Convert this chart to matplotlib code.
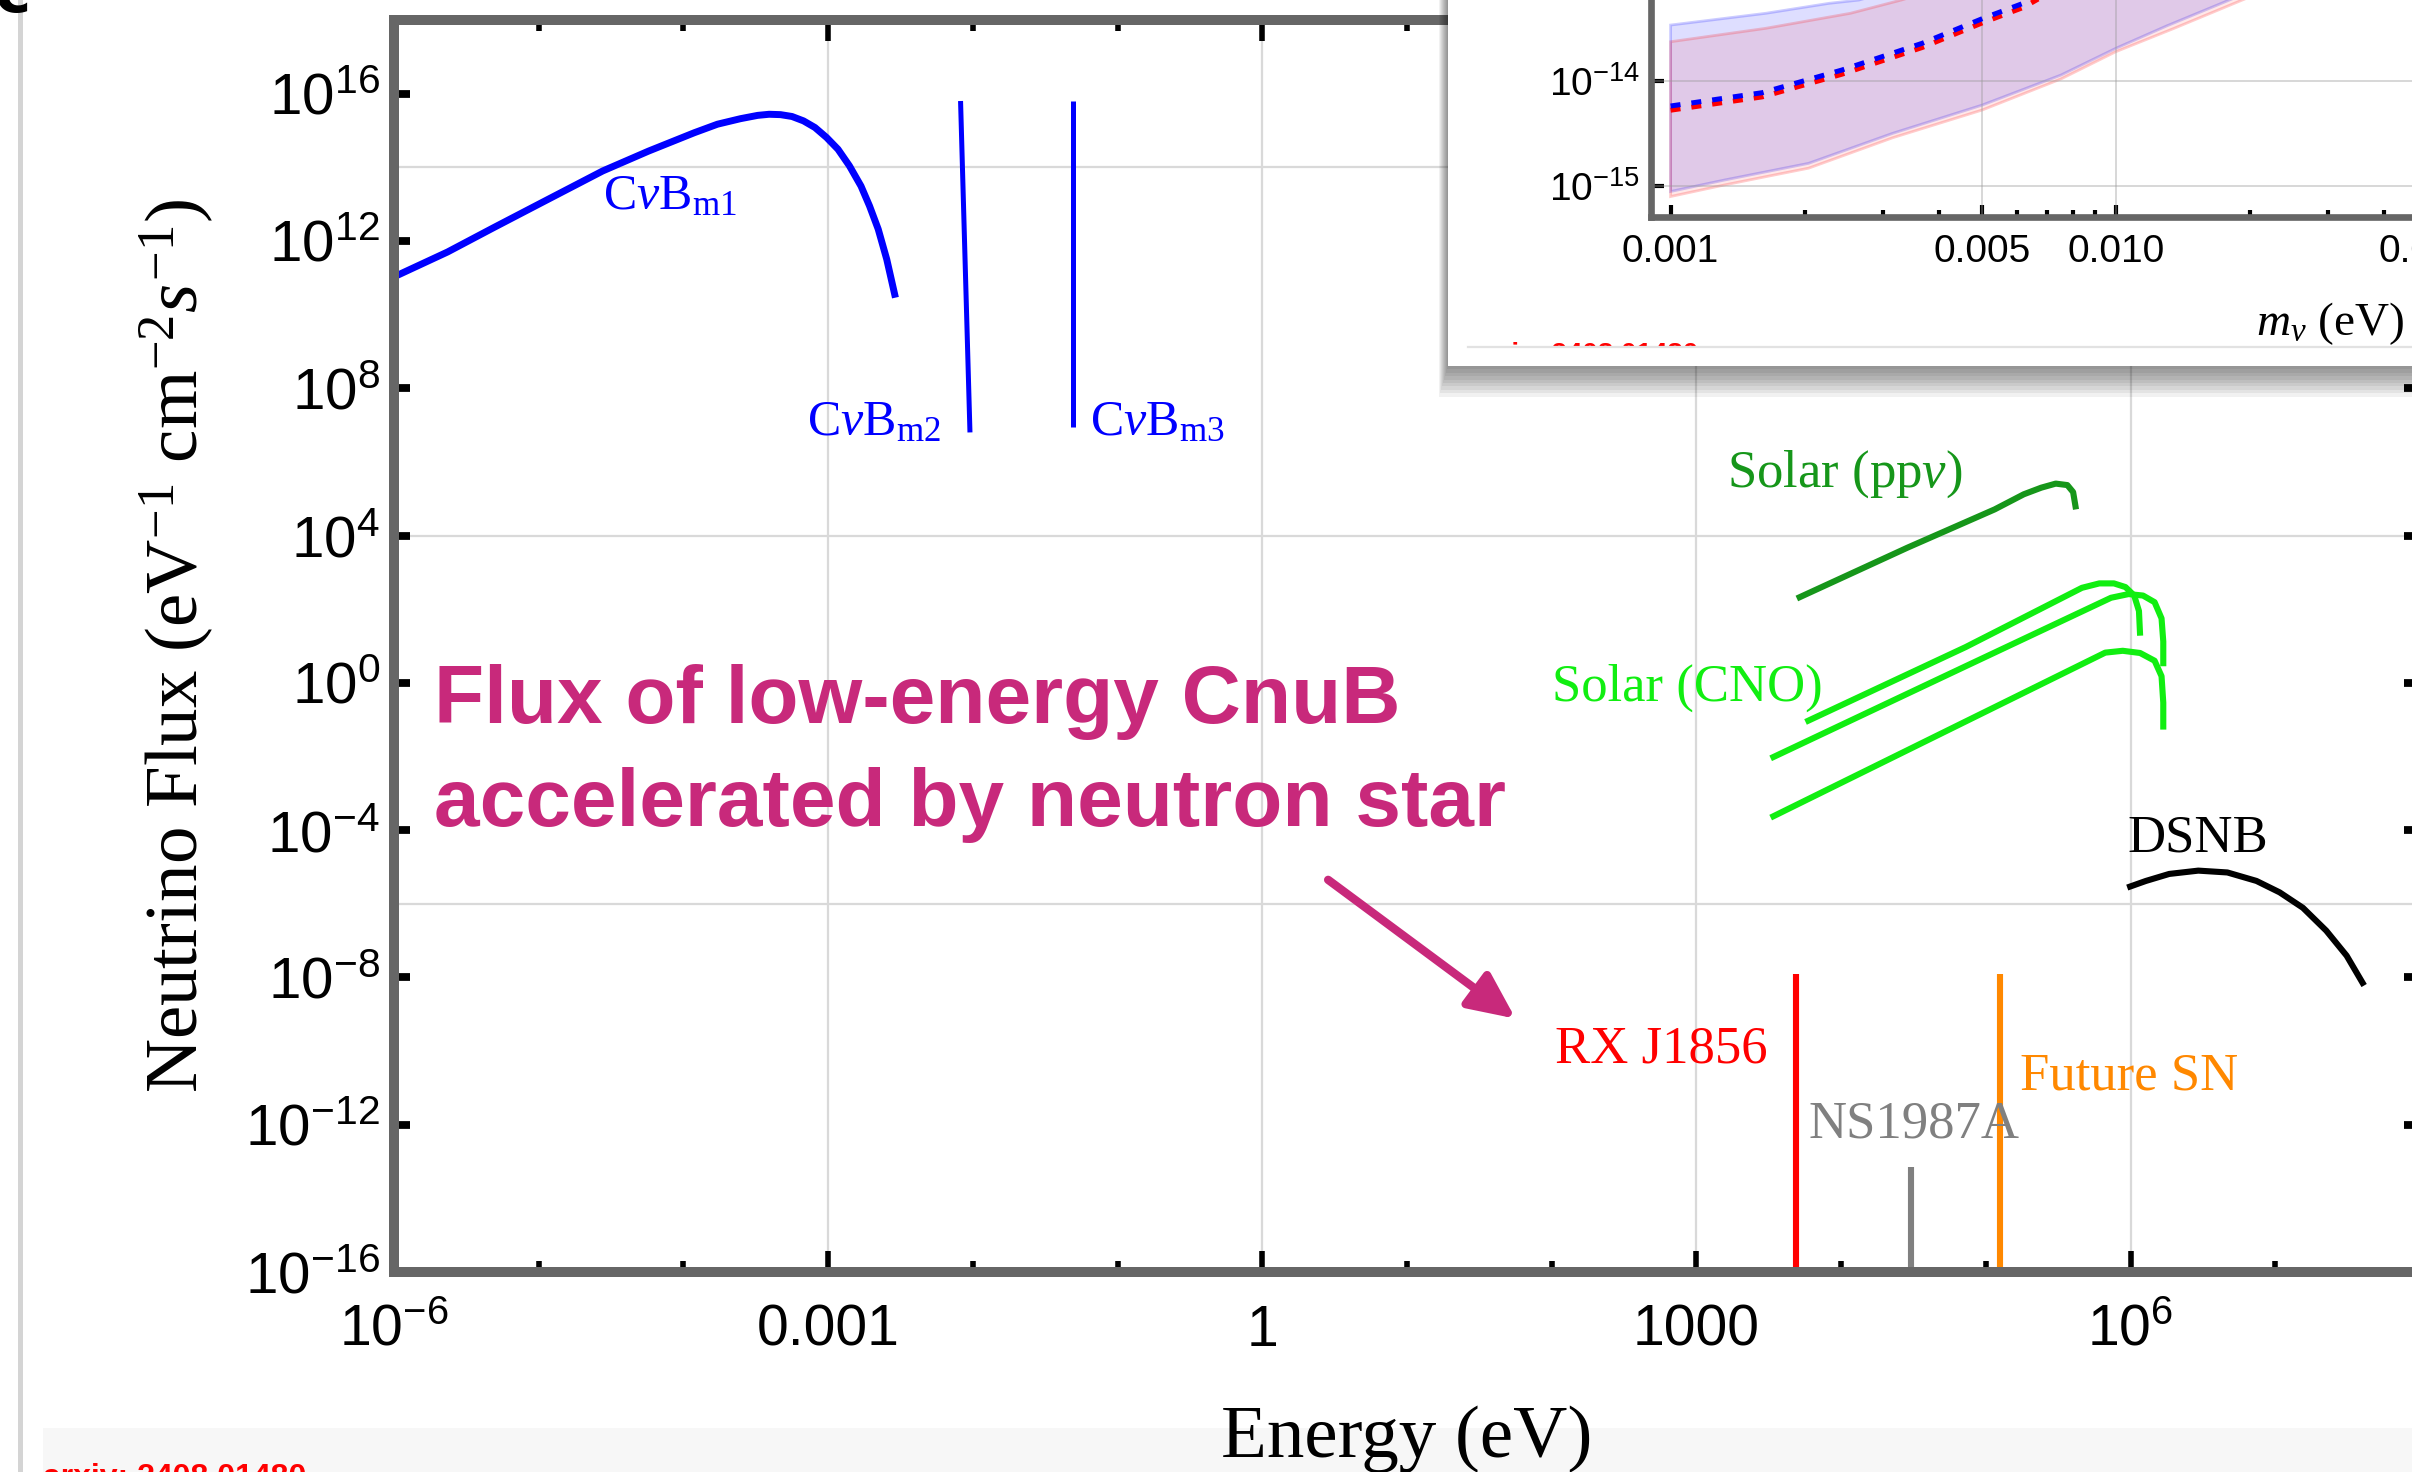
import numpy as np
import matplotlib
matplotlib.use("Agg")
import matplotlib.pyplot as plt
from matplotlib.patches import Rectangle
from matplotlib.lines import Line2D
from matplotlib.ticker import FixedLocator, FixedFormatter, NullLocator, NullFormatter

plt.rcParams['font.family'] = ['Liberation Sans', 'DejaVu Sans']
plt.rcParams['mathtext.fontset'] = 'custom'
plt.rcParams['mathtext.rm'] = 'Liberation Serif'
plt.rcParams['mathtext.it'] = 'Liberation Serif:italic'
plt.rcParams['mathtext.bf'] = 'Liberation Serif:bold'
plt.rcParams['mathtext.default'] = 'regular'

# ---- main panel: log10(E / eV) and log10(flux) ----
cvb_m1_logE = [-5.986, -5.630, -5.312, -4.955, -4.558, -4.241, -3.924, -3.765, -3.606, -3.487,
               -3.408, -3.329, -3.250, -3.170, -3.091, -3.011, -2.932, -2.853, -2.773, -2.714,
               -2.654, -2.595, -2.535]
cvb_m1_logF = [11.05, 11.70, 12.36, 13.09, 13.90, 14.44, 14.94, 15.17, 15.32, 15.41,
               15.44, 15.43, 15.38, 15.26, 15.08, 14.81, 14.49, 14.04, 13.49, 12.95,
               12.32, 11.50, 10.46]
cvb_m2_logE = [-2.085, -2.02]
cvb_m2_logF = [15.8, 6.8]
cvb_m3_logE = [-1.31, -1.31]
cvb_m3_logF = [15.8, 6.95]

pp_logE = [3.694, 4.458, 5.061, 5.262, 5.383, 5.483, 5.563, 5.603, 5.623]
pp_logF = [2.29, 3.67, 4.71, 5.12, 5.30, 5.41, 5.37, 5.18, 4.71]

cno_a_logE = [3.754, 4.860, 5.664, 5.784, 5.885, 5.965, 6.025, 6.058, 6.066]
cno_a_logF = [-1.063, 0.97, 2.58, 2.70, 2.70, 2.60, 2.37, 1.95, 1.28]
cno_b_logE = [3.513, 4.860, 5.865, 5.986, 6.086, 6.166, 6.214, 6.226, 6.226]
cno_b_logF = [-2.05, 0.45, 2.31, 2.41, 2.37, 2.19, 1.75, 1.12, 0.45]
cno_c_logE = [3.513, 5.825, 5.946, 6.066, 6.166, 6.214, 6.226, 6.226]
cno_c_logF = [-3.66, 0.82, 0.87, 0.81, 0.60, 0.18, -0.54, -1.27]

dsnb_logE = [5.977, 6.106, 6.267, 6.468, 6.669, 6.870, 7.030, 7.191, 7.352, 7.493, 7.614]
dsnb_logF = [-5.56, -5.38, -5.19, -5.10, -5.15, -5.38, -5.69, -6.11, -6.73, -7.41, -8.22]

# neutron-star / SN lines: energy and top of line
spike_names = ['RX J1856', 'NS1987A', 'Future SN']
spike_logE = [3.69, 4.48, 5.10]
spike_logTop = [-7.9, -13.14, -7.9]
spike_colors = ['#ff0000', '#808080', '#ff8800']

x_major = [1e-6, 1e-3, 1.0, 1e3, 1e6]
x_labels = [r'$\mathdefault{10^{-6}}$', '0.001', '1', '1000', r'$\mathdefault{10^{6}}$']
y_exps = [16, 12, 8, 4, 0, -4, -8, -12, -16]
grid_x = [1e-3, 1.0, 1e3, 1e6]
grid_y = [1e14, 1e4, 1e-6]

# ---- inset: log10(m_nu / eV) vs log10(value) ----
dash_logm = [-3.0, -2.794, -2.615, -2.435, -2.298, -2.208, -2.1]
dash_blue = [-14.238, -14.111, -13.895, -13.641, -13.403, -13.26, -13.0]
dash_red = [-14.278, -14.151, -13.935, -13.681, -13.443, -13.30, -13.04]

blue_low_m = [-3.0, -2.879, -2.785, -2.69, -2.501, -2.30, -2.123, -2.0, -1.886, -1.745, -1.5]
blue_low_v = [-15.052, -14.943, -14.864, -14.784, -14.498, -14.229, -13.943, -13.689, -13.476, -13.229, -12.8]
blue_up_m = [-3.0, -2.786, -2.644, -2.577, -2.3, -1.5]
blue_up_v = [-13.467, -13.355, -13.26, -13.229, -12.9, -12.0]
red_low_m = [-3.0, -2.879, -2.785, -2.69, -2.501, -2.30, -2.123, -2.0, -1.870, -1.716, -1.5]
red_low_v = [-15.10, -14.99, -14.91, -14.83, -14.54, -14.276, -13.98, -13.721, -13.50, -13.229, -12.85]
red_up_m = [-3.0, -2.786, -2.596, -2.482, -2.3, -1.5]
red_up_v = [-13.626, -13.498, -13.355, -13.229, -13.0, -12.1]

MAG = '#c8297b'
SERIF = 'Liberation Serif'

if __name__ == "__main__":
    W, H = 2412, 1472
    fig = plt.figure(figsize=(W / 200, H / 200), dpi=200)

    # page decorations (screenshot frame)
    fig.add_artist(Rectangle((43 / W, 0), 1, 44 / H, transform=fig.transFigure,
                             facecolor='#f7f7f7', edgecolor='none', zorder=-1))
    fig.add_artist(Rectangle((18 / W, 0), 5 / W, 1, transform=fig.transFigure,
                             facecolor='#d4d4d4', edgecolor='none', zorder=-1))
    fig.text(-6 / W, 1 - 12 / H, 'c', size=22, weight='bold', family='DejaVu Sans', va='baseline')
    fig.text(43 / W, 1 - 1486 / H, 'arxiv: 2408.01480', color='red', size=11.5,
             weight='bold', va='baseline')

    ax = fig.add_axes([394 / W, 1 - 1272 / H, 2026 / W, 1252 / H])
    ax.set_xscale('log')
    ax.set_yscale('log')
    ax.set_xlim(1e-6, 1e8)
    ax.set_ylim(1e-16, 1e18)

    for s in ax.spines.values():
        s.set_linewidth(3.6)
        s.set_color('#666666')

    ax.xaxis.set_major_locator(FixedLocator(x_major))
    ax.xaxis.set_major_formatter(FixedFormatter(x_labels))
    ax.xaxis.set_minor_locator(FixedLocator(10.0 ** np.arange(-6, 9)))
    ax.xaxis.set_minor_formatter(NullFormatter())
    ax.yaxis.set_major_locator(FixedLocator([10.0 ** e for e in y_exps]))
    ax.yaxis.set_major_formatter(FixedFormatter([r'$\mathdefault{10^{%d}}$' % e for e in y_exps]))
    ax.yaxis.set_minor_locator(NullLocator())
    ax.tick_params(axis='x', which='major', direction='in', length=7.5, width=2, color='k',
                   top=True, labelsize=20.5, pad=11.5)
    ax.tick_params(axis='x', which='minor', direction='in', length=4, width=2, color='k', top=True)
    ax.tick_params(axis='y', which='major', direction='in', length=5.8, width=2.8, color='k',
                   right=True, labelsize=21, pad=5)

    for g in grid_x:
        ax.axvline(g, color='#d9d9d9', lw=0.8, zorder=0)
    for g in grid_y:
        ax.axhline(g, color='#d9d9d9', lw=0.8, zorder=0)

    lg = lambda v: 10.0 ** np.asarray(v)

    ax.plot(lg(cvb_m1_logE), lg(cvb_m1_logF), color='#0000ff', lw=2.5, solid_capstyle='butt')
    ax.plot(lg(cvb_m2_logE), lg(cvb_m2_logF), color='#0000ff', lw=1.8, solid_capstyle='butt')
    ax.plot(lg(cvb_m3_logE), lg(cvb_m3_logF), color='#0000ff', lw=1.8, solid_capstyle='butt')
    ax.plot(lg(pp_logE), lg(pp_logF), color='#16961a', lw=2.2, solid_capstyle='butt')
    for e, f in [(cno_a_logE, cno_a_logF), (cno_b_logE, cno_b_logF), (cno_c_logE, cno_c_logF)]:
        ax.plot(lg(e), lg(f), color='#11ee11', lw=2.2, solid_capstyle='butt')
    ax.plot(lg(dsnb_logE), lg(dsnb_logF), color='black', lw=2.2, solid_capstyle='butt')
    for e, top, c in zip(spike_logE, spike_logTop, spike_colors):
        ax.vlines(10.0 ** e, 1e-16, 10.0 ** top, color=c, lw=2.2)

    cvb = r'C$\mathit{\nu}$B$_{\mathrm{%s}}$'
    ax.text(10 ** -4.556, 10 ** 12.86, cvb % 'm1', color='#0000ff', family=SERIF, size=18, va='baseline')
    ax.text(10 ** -2.22, 10 ** 6.74, cvb % 'm2', color='#0000ff', family=SERIF, size=18,
            ha='right', va='baseline')
    ax.text(10 ** -1.19, 10 ** 6.74, cvb % 'm3', color='#0000ff', family=SERIF, size=18, va='baseline')
    ax.text(10 ** 3.21, 10 ** 5.33, r'Solar (pp$\mathit{\nu}$)', color='#16961a', family=SERIF,
            size=19, va='baseline')
    ax.text(10 ** 2.0, 10 ** -0.48, 'Solar (CNO)', color='#11ee11', family=SERIF, size=19, va='baseline')
    ax.text(10 ** 5.977, 10 ** -4.58, 'DSNB', color='black', family=SERIF, size=19, va='baseline')
    ax.text(10 ** 3.495, 10 ** -10.32, spike_names[0], color=spike_colors[0], family=SERIF, size=19,
            ha='right', va='baseline')
    ax.text(10 ** 3.772, 10 ** -12.36, spike_names[1], color=spike_colors[1], family=SERIF, size=19,
            va='baseline')
    ax.text(10 ** 5.234, 10 ** -11.05, spike_names[2], color=spike_colors[2], family=SERIF, size=19,
            va='baseline')

    ax.text(10 ** -5.724, 10 ** -1.08, 'Flux of low-energy CnuB', color=MAG, size=29.5,
            weight='bold', va='baseline')
    ax.text(10 ** -5.724, 10 ** -3.88, 'accelerated by neutron star', color=MAG, size=29.5,
            weight='bold', va='baseline')
    ax.annotate('', xy=(10 ** 1.75, 10 ** -9.12), xytext=(10 ** 0.455, 10 ** -5.35),
                arrowprops=dict(arrowstyle='-|>,head_length=1.4,head_width=0.65', mutation_scale=10,
                                color=MAG, lw=3, shrinkA=0, shrinkB=0))

    ax.set_xlabel('Energy (eV)', family=SERIF, size=27)
    ax.set_ylabel(r'Neutrino Flux (eV$^{-1}$ cm$^{-2}$$\mathit{s}^{-1}$)', family=SERIF, size=27)
    ax.xaxis.set_label_coords(0.5, -0.107)
    ax.yaxis.set_label_coords(-0.088, 0.5)

    # ---- inset box with drop shadow ----
    for k in range(1, 10):
        fig.add_artist(Rectangle(((1448 - k) / W, 1 - (366 + 3.4 * k) / H), 1, 1,
                                 transform=fig.transFigure, facecolor='black', alpha=0.055,
                                 edgecolor='none', zorder=1.5))
    fig.add_artist(Rectangle((1448 / W, 1 - 366 / H), 1, 1, transform=fig.transFigure,
                             facecolor='white', edgecolor='none', zorder=2))
    fig.text(1470 / W, 1 - 362 / H, 'arxiv: 2408.01480', color='red', size=10, weight='bold',
             va='baseline', zorder=2.5)
    fig.add_artist(Rectangle((1448 / W, 1 - 366 / H), 1, 19 / H, transform=fig.transFigure,
                             facecolor='white', edgecolor='none', zorder=2.6))
    fig.add_artist(Line2D([1468 / W, 1], [1 - 347 / H, 1 - 347 / H], transform=fig.transFigure,
                          color='#e2e2e2', lw=0.8, zorder=2.7))

    axin = fig.add_axes([1651 / W, 1 - 217 / H, 910 / W, 346 / H], zorder=3)
    axin.set_xscale('log')
    axin.set_yscale('log')
    axin.set_xlim(10 ** -3.044, 0.1)
    axin.set_ylim(10 ** -15.295, 1e-12)
    for s in axin.spines.values():
        s.set_linewidth(2.4)
        s.set_color('#666666')

    axin.fill(lg(blue_low_m + blue_up_m[::-1]), lg(blue_low_v + blue_up_v[::-1]),
              facecolor=(0, 0, 1, 0.13), edgecolor=(0, 0, 1, 0.2), lw=1, zorder=1)
    axin.fill(lg(red_low_m + red_up_m[::-1]), lg(red_low_v + red_up_v[::-1]),
              facecolor=(1, 0, 0, 0.09), edgecolor=(1, 0, 0, 0.2), lw=1, zorder=1)
    for g in [0.005, 0.01, 0.05]:
        axin.axvline(g, color='#999999', alpha=0.45, lw=0.6, zorder=2)
    for g in [1e-15, 1e-14, 1e-13]:
        axin.axhline(g, color='#999999', alpha=0.45, lw=0.6, zorder=2)
    axin.plot(lg(dash_logm), lg(dash_red), color='#ff0000', lw=1.8, dashes=(2, 2.2), zorder=3)
    axin.plot(lg(dash_logm), lg(dash_blue), color='#0000ff', lw=1.8, dashes=(2, 2.2), zorder=3)

    axin.xaxis.set_major_locator(FixedLocator([0.001, 0.005, 0.01, 0.05]))
    axin.xaxis.set_major_formatter(FixedFormatter(['0.001', '0.005', '0.010', '0.050']))
    axin.xaxis.set_minor_locator(FixedLocator([0.002, 0.003, 0.004, 0.006, 0.007, 0.008, 0.009,
                                               0.02, 0.03, 0.04]))
    axin.xaxis.set_minor_formatter(NullFormatter())
    axin.yaxis.set_major_locator(FixedLocator([1e-15, 1e-14, 1e-13, 1e-12]))
    axin.yaxis.set_major_formatter(FixedFormatter([r'$\mathdefault{10^{-15}}$', r'$\mathdefault{10^{-14}}$',
                                                   r'$\mathdefault{10^{-13}}$', r'$\mathdefault{10^{-12}}$']))
    axin.yaxis.set_minor_locator(NullLocator())
    axin.tick_params(which='major', direction='in', length=4.5, width=1.5, color='k',
                     labelsize=14, pad=6)
    axin.tick_params(which='minor', direction='in', length=2.4, width=1.5, color='k')
    axin.tick_params(axis='y', pad=4)

    fig.text(2404 / W, 1 - 335 / H, r'$\mathit{m}_{\mathit{\nu}}$ (eV)', family=SERIF, size=17,
             ha='right', va='baseline', zorder=4)

    fig.savefig('out.png', dpi=200)
